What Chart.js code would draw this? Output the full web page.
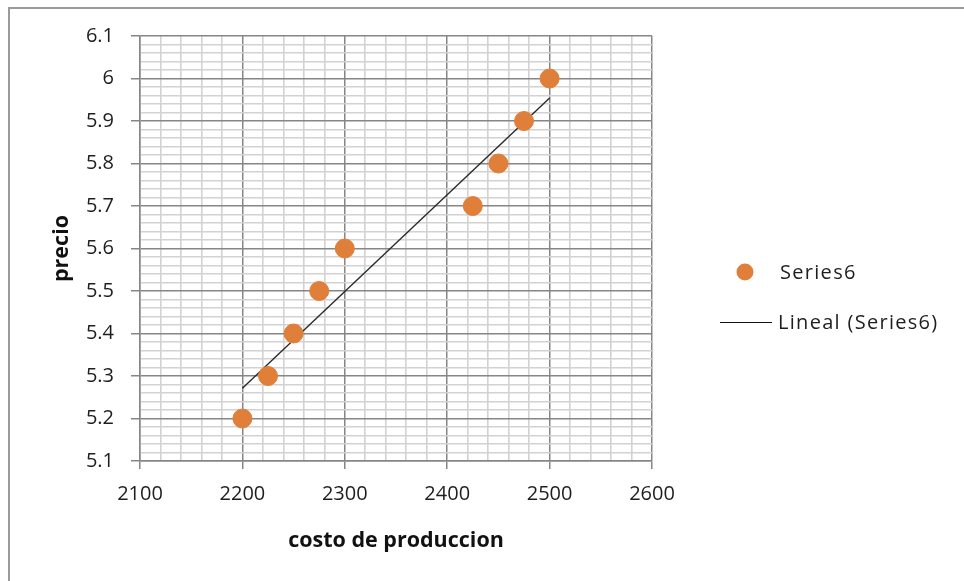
<!DOCTYPE html>
<html>
<head>
<meta charset="utf-8">
<script src="https://cdn.jsdelivr.net/npm/chart.js@4"></script>
<style>
  html, body { margin: 0; padding: 0; background: #fff; }
  #wrap { position: relative; width: 964px; height: 581px; overflow: hidden; }
  #frame { position: absolute; left: 8px; top: 7px; width: 1000px; height: 700px; border-left: 2px solid #9a9a9a; border-top: 2px solid #9a9a9a; box-sizing: border-box; }
  canvas { position: absolute; left: 0; top: 0; }
</style>
</head>
<body>
<div id="wrap">
  <div id="frame"></div>
  <canvas id="c" width="964" height="581"></canvas>
</div>
<script>
const costo = [2200, 2225, 2250, 2275, 2300, 2425, 2450, 2475, 2500];
const precio = [5.2, 5.3, 5.4, 5.5, 5.6, 5.7, 5.8, 5.9, 6.0];
const trendX = [2200, 2500];
const trendY = [5.271, 5.954];
const xTicks = [2100, 2200, 2300, 2400, 2500, 2600];
const yTicks = [5.1, 5.2, 5.3, 5.4, 5.5, 5.6, 5.7, 5.8, 5.9, 6, 6.1];
const seriesName = 'Series6';
const trendName = 'Lineal (Series6)';
const xTitle = 'costo de produccion';
const yTitle = 'precio';

const FONT = '"Open Sans", sans-serif';
const MAJOR = '#868686';
const MINOR = '#d2d2d2';
const ORANGE = '#E07F3A';

const isMajorX = v => xTicks.some(t => Math.abs(t - v) < 1e-6);
const isMajorY = v => yTicks.some(t => Math.abs(t - v) < 1e-6);

const legendPlugin = {
  id: 'customLegend',
  afterDraw(chart) {
    const ctx = chart.ctx;
    ctx.save();
    ctx.font = '20px ' + FONT;
    if ('letterSpacing' in ctx) ctx.letterSpacing = '1.3px';
    ctx.textBaseline = 'middle';
    ctx.beginPath();
    ctx.arc(745, 272, 8.5, 0, Math.PI * 2);
    ctx.fillStyle = ORANGE;
    ctx.fill();
    ctx.fillStyle = '#1e1e1e';
    ctx.fillText(seriesName, 780, 273);
    ctx.beginPath();
    ctx.moveTo(720, 322.5);
    ctx.lineTo(772, 322.5);
    ctx.strokeStyle = '#111';
    ctx.lineWidth = 1.2;
    ctx.stroke();
    ctx.fillText(trendName, 778, 323);
    ctx.restore();
  }
};

new Chart(document.getElementById('c'), {
  type: 'scatter',
  data: {
    datasets: [
      {
        label: seriesName,
        data: costo.map((x, i) => ({ x: x, y: precio[i] })),
        backgroundColor: ORANGE,
        borderColor: ORANGE,
        pointRadius: 9.5,
        pointHoverRadius: 9.5,
        order: 1
      },
      {
        label: trendName,
        type: 'line',
        data: trendX.map((x, i) => ({ x: x, y: trendY[i] })),
        borderColor: '#2a2a2a',
        borderWidth: 1.4,
        pointRadius: 0,
        fill: false,
        order: 2
      }
    ]
  },
  options: {
    responsive: false,
    animation: false,
    layout: { padding: { top: 36, right: 312, bottom: 0, left: 0 } },
    plugins: { legend: { display: false }, tooltip: { enabled: false } },
    scales: {
      x: {
        type: 'linear',
        min: 2100, max: 2600,
        afterFit: s => { s.height = 120; },
        ticks: {
          stepSize: 20,
          autoSkip: false,
          maxRotation: 0,
          padding: 13,
          color: '#1e1e1e',
          font: { family: FONT, size: 20 },
          callback: v => isMajorX(v) ? String(Math.round(v)) : ''
        },
        grid: {
          color: c => isMajorX(c.tick.value) ? MAJOR : MINOR,
          lineWidth: c => isMajorX(c.tick.value) ? 1.5 : 1.6,
          tickColor: c => isMajorX(c.tick.value) ? MAJOR : 'rgba(0,0,0,0)',
          tickLength: 8
        },
        border: { color: MAJOR, width: 1.5 },
        title: {
          display: true, text: xTitle, color: '#111',
          font: { family: FONT, size: 21.5, weight: 'bold' },
          padding: { top: 27, bottom: 27 }
        }
      },
      y: {
        type: 'linear',
        min: 5.1, max: 6.1,
        afterFit: s => { s.width = 140; },
        ticks: {
          stepSize: 0.02,
          autoSkip: false,
          padding: 17,
          color: '#1e1e1e',
          font: { family: FONT, size: 20 },
          callback: v => isMajorY(v) ? String(Number(v.toFixed(1))) : ''
        },
        grid: {
          color: c => isMajorY(c.tick.value) ? MAJOR : MINOR,
          lineWidth: c => isMajorY(c.tick.value) ? 1.5 : 1.6,
          tickColor: c => isMajorY(c.tick.value) ? MAJOR : 'rgba(0,0,0,0)',
          tickLength: 9
        },
        border: { color: MAJOR, width: 1.5 },
        title: {
          display: true, text: yTitle, color: '#111',
          font: { family: FONT, size: 21.5, weight: 'bold' },
          padding: { top: 49, bottom: 49 }
        }
      }
    }
  },
  plugins: [legendPlugin]
});
</script>
</body>
</html>
